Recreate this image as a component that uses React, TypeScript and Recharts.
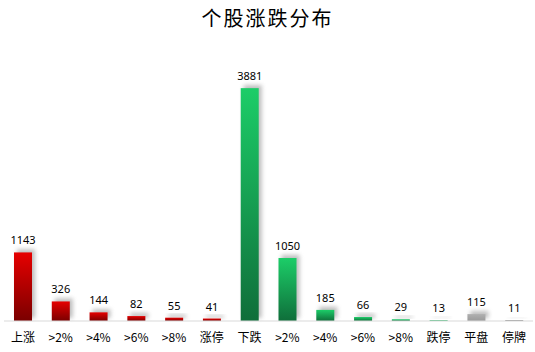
import React from "react";
import { BarChart, Bar, XAxis, YAxis, LabelList, Cell } from "recharts";

const categories = ["上涨", ">2%", ">4%", ">6%", ">8%", "涨停", "下跌", ">2%", ">4%", ">6%", ">8%", "跌停", "平盘", "停牌"].slice(0, 13);
const cats = ["上涨", ">2%", ">4%", ">6%", ">8%", "涨停", "下跌", ">2% ", ">4% ", ">6% ", ">8% ", "跌停", "平盘", "停牌"];
const values = [1143, 326, 144, 82, 55, 41, 3881, 1050, 185, 66, 29, 13, 115, 11];
const kinds = ["up", "up", "up", "up", "up", "up", "down", "down", "down", "down", "down", "down", "flat", "halt"];

const data = cats.map((c, i) => ({ name: c, value: values[i], kind: kinds[i] }));

const fills: Record<string, string> = {
  up: "url(#gUp)",
  down: "url(#gDown)",
  flat: "url(#gFlat)",
  halt: "url(#gHalt)",
};

const ShadowBar = (props: any) => {
  const { x, y, width, height, fill } = props;
  if (height <= 0) return null;
  return (
    <g>
      <rect x={x + 3} y={y - 3} width={width} height={height} fill="#888" opacity={0.55} filter="url(#blur)" />
      <rect x={x} y={y} width={width} height={height} fill={fill} />
    </g>
  );
};

export default function App() {
  return (
    <div style={{ position: "absolute", left: 0, top: 0, width: 535, height: 352, background: "#fff" }}>
      <div
        style={{
          position: "absolute",
          left: 0,
          top: 4,
          width: 535,
          textAlign: "center",
          fontFamily: "'Noto Sans CJK SC', sans-serif",
          fontSize: 20,
          letterSpacing: 2,
          color: "#000",
          lineHeight: "28px",
        }}
      >
        个股涨跌分布
      </div>
      <BarChart width={535} height={352} data={data} margin={{ top: 81, right: 2, left: 4, bottom: 0 }}>
        <defs>
          <linearGradient id="gUp" x1="0" y1="0" x2="0" y2="1">
            <stop offset="0%" stopColor="#e60000" />
            <stop offset="100%" stopColor="#7a0000" />
          </linearGradient>
          <linearGradient id="gDown" x1="0" y1="0" x2="0" y2="1">
            <stop offset="0%" stopColor="#1ccd68" />
            <stop offset="100%" stopColor="#0f6e3a" />
          </linearGradient>
          <linearGradient id="gFlat" x1="0" y1="0" x2="0" y2="1">
            <stop offset="0%" stopColor="#b0b0b0" />
            <stop offset="100%" stopColor="#9a9a9a" />
          </linearGradient>
          <linearGradient id="gHalt" x1="0" y1="0" x2="0" y2="1">
            <stop offset="0%" stopColor="#666" />
            <stop offset="100%" stopColor="#333" />
          </linearGradient>
          <filter id="blur" x="-50%" y="-50%" width="200%" height="200%">
            <feGaussianBlur stdDeviation="2" />
          </filter>
        </defs>
        <XAxis
          dataKey="name"
          height={31}
          tickLine={false}
          axisLine={{ stroke: "#d9d9d9" }}
          interval={0}
          tick={{ fill: "#000", fontSize: 12, fontFamily: "'Noto Sans CJK SC', sans-serif" }}
          tickMargin={6}
        />
        <YAxis hide domain={[0, 4000]} />
        <Bar dataKey="value" barSize={18} isAnimationActive={false} shape={<ShadowBar />}>
          {data.map((d, i) => (
            <Cell key={i} fill={fills[d.kind]} />
          ))}
          <LabelList
            dataKey="value"
            position="top"
            offset={8}
            style={{ fill: "#000", fontSize: 11, fontFamily: "'Noto Sans', sans-serif" }}
          />
        </Bar>
      </BarChart>
    </div>
  );
}
